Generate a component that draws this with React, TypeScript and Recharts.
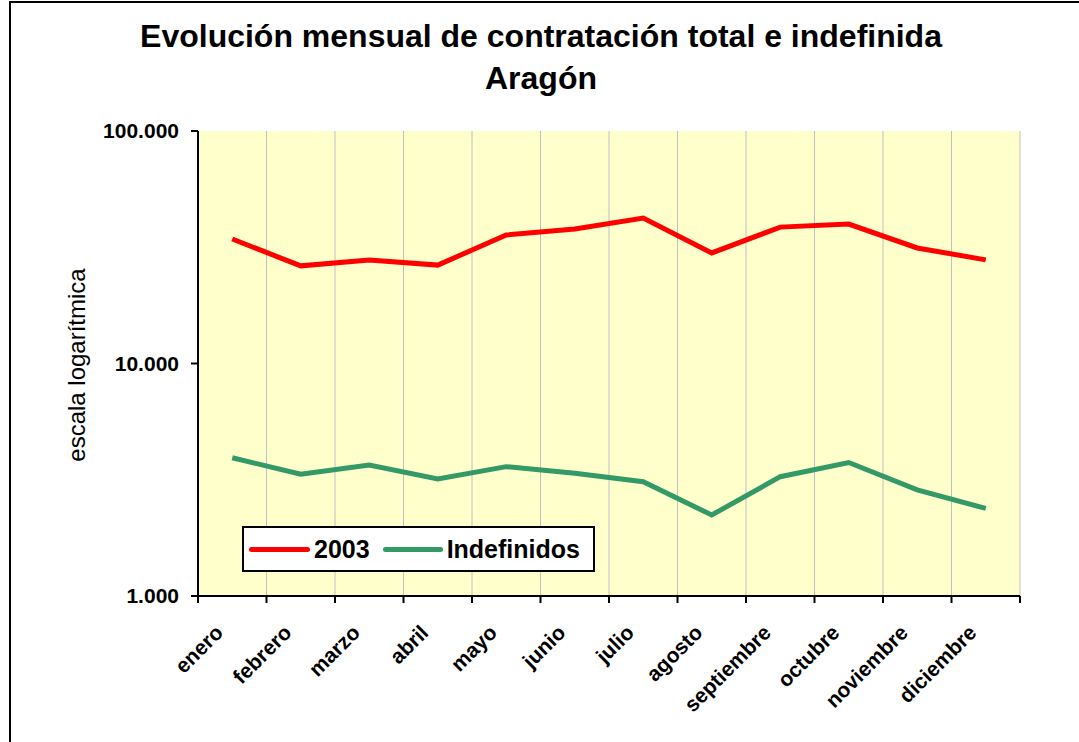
import React from 'react';
import {
  LineChart,
  Line,
  XAxis,
  YAxis,
  CartesianGrid,
  Legend,
} from 'recharts';

const months = [
  'enero', 'febrero', 'marzo', 'abril', 'mayo', 'junio',
  'julio', 'agosto', 'septiembre', 'octubre', 'noviembre', 'diciembre',
];
const total2003 = [34300, 26300, 27900, 26500, 35700, 37900, 42200, 29900, 38600, 39800, 31400, 27900];
const indefinidos = [3930, 3340, 3660, 3190, 3600, 3370, 3100, 2230, 3260, 3750, 2860, 2380];
const yTicks = [1000, 10000, 100000];
const boundaryTicks = months.map((_, i) => i).concat(months.length);
const centerTicks = months.map((_, i) => i + 0.5);

const data = months.map((m, i) => ({
  x: i + 0.5,
  month: m,
  total: total2003[i],
  indef: indefinidos[i],
}));

const FONT = "'Liberation Sans', Arial, sans-serif";
const RED = '#FF0000';
const GREEN = '#339966';

const fmt = (v: number) => String(v).replace(/\B(?=(\d{3})+(?!\d))/g, '.');

const MonthTick = (props: any) => {
  const { x, y, payload } = props;
  const label = months[Math.floor(payload.value)];
  return (
    <g transform={`translate(${x - 8},${y + 28})`}>
      <text
        textAnchor="end"
        transform="rotate(-45)"
        fontFamily={FONT}
        fontWeight="bold"
        fontSize={21}
        fill="#000"
      >
        {label}
      </text>
    </g>
  );
};

const LegendBox = () => (
  <div
    style={{
      width: 353,
      height: 46,
      boxSizing: 'border-box',
      border: '2px solid #000',
      background: '#fff',
      display: 'flex',
      alignItems: 'center',
      fontFamily: FONT,
      fontWeight: 'bold',
      fontSize: 25,
      color: '#000',
    }}
  >
    <span style={{ display: 'inline-block', width: 61, height: 5, borderRadius: 3, background: RED, marginLeft: 5 }} />
    <span style={{ marginLeft: 4 }}>2003</span>
    <span style={{ display: 'inline-block', width: 60, height: 5, borderRadius: 3, background: GREEN, marginLeft: 13 }} />
    <span style={{ marginLeft: 4 }}>Indefinidos</span>
  </div>
);

export default function App() {
  return (
    <div style={{ position: 'absolute', left: 0, top: 0, width: 1079, height: 742, overflow: 'hidden', background: '#fff' }}>
      <div
        style={{
          position: 'absolute',
          left: 9,
          top: 1,
          width: 1200,
          height: 900,
          border: '2px solid #000',
        }}
      />
      <div
        style={{
          position: 'absolute',
          left: 0,
          width: 1082,
          top: 15,
          textAlign: 'center',
          fontFamily: FONT,
          fontWeight: 'bold',
          fontSize: 32,
          lineHeight: '42px',
          color: '#000',
        }}
      >
        <div>Evolución mensual de contratación total e indefinida</div>
        <div>Aragón</div>
      </div>
      <div
        style={{
          position: 'absolute',
          left: 77,
          top: 365,
          transform: 'translate(-50%, -50%) rotate(-90deg)',
          whiteSpace: 'nowrap',
          fontFamily: FONT,
          fontSize: 24,
          color: '#000',
        }}
      >
        escala logarítmica
      </div>
      <div style={{ position: 'absolute', left: 0, top: 0 }}>
        <LineChart width={1079} height={742} data={data} margin={{ top: 131, right: 59, left: 0, bottom: 0 }}>
          <CartesianGrid
            xAxisId="b"
            yAxisId="l"
            horizontal={false}
            vertical
            stroke="#C0C0C0"
            strokeWidth={1}
            fill="#FFFFCC"
          />
          <XAxis
            xAxisId="top"
            orientation="top"
            type="number"
            dataKey="x"
            domain={[0, 12]}
            height={0}
            tick={false}
            tickLine={false}
            axisLine={{ stroke: '#808080', strokeWidth: 3 }}
          />
          <YAxis
            yAxisId="r"
            orientation="right"
            type="number"
            domain={[0, 1]}
            width={0}
            tick={false}
            tickLine={false}
            axisLine={{ stroke: '#808080', strokeWidth: 3 }}
          />
          <XAxis
            xAxisId="b"
            type="number"
            dataKey="x"
            domain={[0, 12]}
            ticks={boundaryTicks}
            interval={0}
            height={10}
            tickFormatter={() => ''}
            tickSize={7}
            tickLine={{ stroke: '#000', strokeWidth: 2 }}
            axisLine={{ stroke: '#000', strokeWidth: 2 }}
          />
          <XAxis
            xAxisId="m"
            type="number"
            dataKey="x"
            domain={[0, 12]}
            ticks={centerTicks}
            interval={0}
            height={136}
            tickSize={0}
            tickMargin={0}
            tickLine={false}
            axisLine={false}
            tick={<MonthTick />}
          />
          <YAxis
            yAxisId="l"
            scale="log"
            type="number"
            domain={[1000, 100000]}
            ticks={yTicks}
            allowDataOverflow
            width={198}
            tickFormatter={fmt}
            tickSize={7}
            tickMargin={12}
            tick={{ fill: '#000', fontFamily: FONT, fontWeight: 'bold', fontSize: 21 }}
            tickLine={{ stroke: '#000', strokeWidth: 2 }}
            axisLine={{ stroke: '#000', strokeWidth: 2 }}
          />
          <Legend
            layout="horizontal"
            verticalAlign="middle"
            align="center"
            content={<LegendBox />}
            wrapperStyle={{ position: 'absolute', left: 242, top: 526, width: 353 }}
          />
          <Line
            xAxisId="b"
            yAxisId="l"
            type="linear"
            dataKey="total"
            name="2003"
            stroke={RED}
            strokeWidth={5}
            dot={false}
            isAnimationActive={false}
          />
          <Line
            xAxisId="b"
            yAxisId="l"
            type="linear"
            dataKey="indef"
            name="Indefinidos"
            stroke={GREEN}
            strokeWidth={5}
            dot={false}
            isAnimationActive={false}
          />
        </LineChart>
      </div>
    </div>
  );
}
